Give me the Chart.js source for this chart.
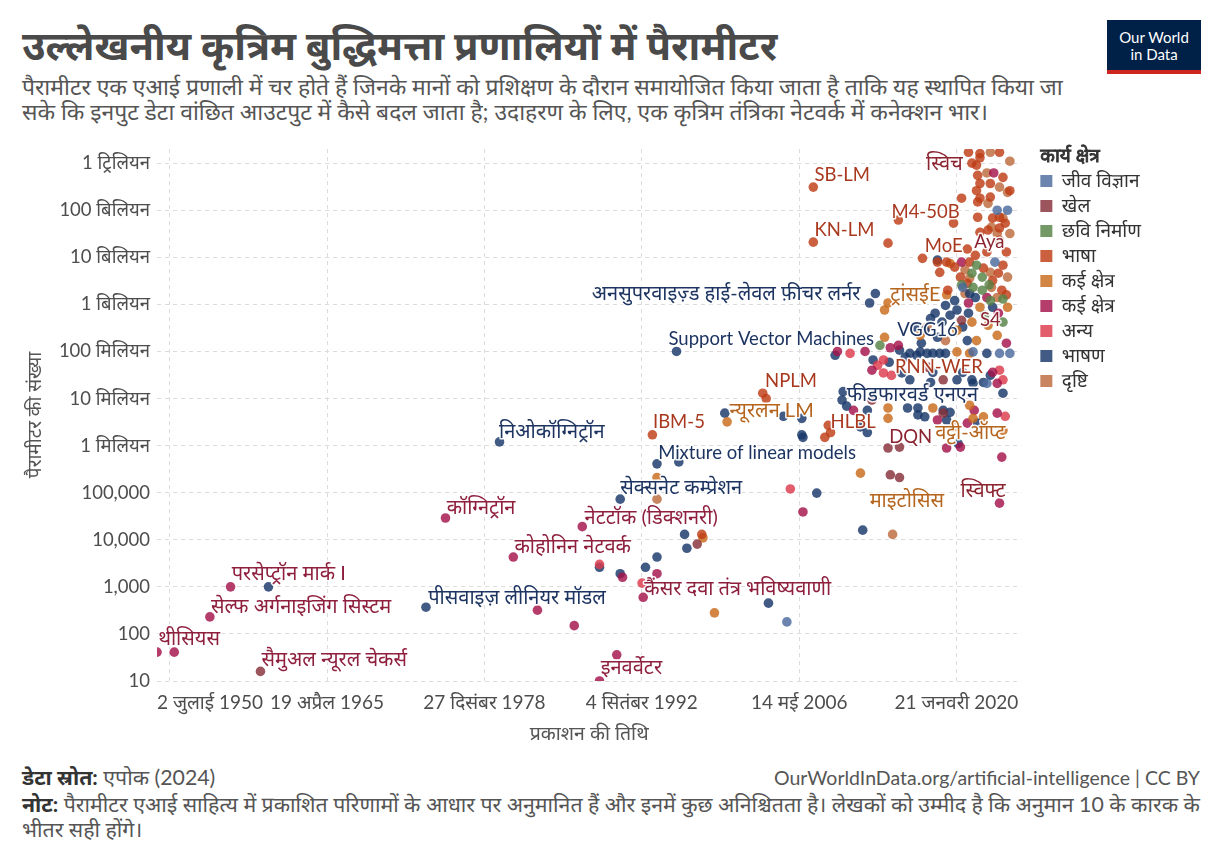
<!DOCTYPE html>
<html lang="hi">
<head>
<meta charset="utf-8">
<title>उल्लेखनीय कृत्रिम बुद्धिमत्ता प्रणालियों में पैरामीटर</title>
<script src="https://cdn.jsdelivr.net/npm/chart.js@4.4.1/dist/chart.umd.min.js"></script>
<style>
  body {
    margin: 0;
    width: 1224px;
    height: 864px;
    background: #fff;
    position: relative;
    overflow: hidden;
    font-family: Lato, "Noto Sans Devanagari", "Noto Sans", sans-serif;
  }
  h1 {
    position: absolute;
    left: 22px;
    top: 23px;
    margin: 0;
    font-size: 40px;
    line-height: 44px;
    font-weight: 700;
    color: #4a4a4a;
    white-space: nowrap;
  }
  .sub {
    position: absolute;
    left: 22px;
    top: 74px;
    margin: 0;
    font-size: 22.9px;
    line-height: 25px;
    color: #555;
    white-space: nowrap;
  }
  .logo {
    position: absolute;
    left: 1107px;
    top: 20px;
    width: 94px;
    height: 54px;
    box-sizing: border-box;
    background: #002147;
    border-bottom: 4px solid #ce261e;
    color: #fff;
    font-family: Lato, sans-serif;
    font-size: 15px;
    line-height: 17px;
    text-align: center;
    padding-top: 9px;
  }
  #wrap {
    position: absolute;
    left: 0;
    top: 140px;
    width: 1224px;
    height: 610px;
  }
  .foot {
    position: absolute;
    margin: 0;
    font-size: 21.3px;
    line-height: 25px;
    color: #555;
    white-space: nowrap;
  }
  .foot b { color: #333; }
  .src { left: 22px; top: 765px; }
  .url { right: 24px; top: 765px; font-size: 19.5px; }
  .note { left: 22px; top: 792px; }
</style>
</head>
<body>
<h1>उल्लेखनीय कृत्रिम बुद्धिमत्ता प्रणालियों में पैरामीटर</h1>
<p class="sub">पैरामीटर एक एआई प्रणाली में चर होते हैं जिनके मानों को प्रशिक्षण के दौरान समायोजित किया जाता है ताकि यह स्थापित किया जा<br>सके कि इनपुट डेटा वांछित आउटपुट में कैसे बदल जाता है; उदाहरण के लिए, एक कृत्रिम तंत्रिका नेटवर्क में कनेक्शन भार।</p>
<div class="logo">Our World<br>in Data</div>

<div id="wrap"><canvas id="chart"></canvas></div>

<p class="foot src"><b>डेटा स्रोत:</b> एपोक (2024)</p>
<p class="foot url">OurWorldInData.org/artificial-intelligence | CC BY</p>
<p class="foot note"><b>नोट:</b> पैरामीटर एआई साहित्य में प्रकाशित परिणामों के आधार पर अनुमानित हैं और इनमें कुछ अनिश्चितता है। लेखकों को उम्मीद है कि अनुमान 10 के कारक के<br>भीतर सही होंगे।</p>

<script>
// [publication year, parameters]
const biology = [
  [2005.3, 180], [2023.6, 1.0e11], [2024.5, 1.0e11], [2021.5, 9.8e7], [2022.7, 2.1e7],
  [2023.8, 9.1e7], [2024.7, 9.1e7], [2020.6, 2.3e9], [2023.4, 7.9e9]
];
const games = [
  [1959.5, 16], [1997.5, 8.1e3], [2012.7, 9.3e6], [2014.1, 8.9e5], [2015.1, 9.3e5],
  [2014.3, 2.4e5], [2015.1, 2.1e5], [2017.6, 4.6e7], [2018.9, 2.5e7], [2018.9, 4.9e6],
  [2020.5, 4.6e8]
];
const imageGen = [
  [2021.8, 6.8e9], [2022.3, 3.8e9], [2021.5, 2.3e9], [2022.3, 2.0e9], [2021.4, 4.6e9],
  [2023.0, 1.2e9], [2024.1, 1.3e9], [2022.5, 5.9e8], [2024.1, 4.2e8], [2013.4, 1.35e8],
  [2020.5, 2.6e9], [2022.9, 2.6e9]
];
const language = [
  [1993.6, 1.7e6], [1997.9, 1.3e4], [2003.2, 1.3e7], [2003.5, 1.0e7],
  [2007.6, 3.1e11], [2007.6, 2.1e10], [2008.6, 1.5e6], [2009.1, 1.9e6], [2008.9, 2.7e6],
  [2014.1, 2.0e10], [2015.0, 6.2e10], [2017.1, 9.5e9], [2019.8, 5.3e10], [2020.5, 1.8e11],
  [2021.4, 1.0e12], [2021.1, 1.7e12], [2022.1, 1.6e12], [2023.8, 1.7e12], [2021.8, 9.1e11],
  [2022.1, 1.3e12], [2021.9, 5.5e11], [2024.1, 5.0e11], [2022.1, 3.7e11], [2023.0, 3.7e11],
  [2024.7, 2.6e11], [2021.8, 2.6e11], [2023.0, 1.9e11], [2021.9, 1.5e11], [2022.1, 1.8e11],
  [2021.9, 7.1e10], [2023.2, 6.8e10], [2022.8, 3.8e10], [2023.8, 4.2e10], [2023.8, 7.1e10],
  [2024.3, 5.3e10], [2022.1, 3.4e10], [2023.8, 2.3e10], [2021.0, 1.5e10], [2021.7, 1.1e10],
  [2022.7, 1.3e10], [2024.4, 1.3e10], [2019.2, 7.9e9], [2021.2, 7.9e9], [2024.1, 6.8e9],
  [2019.9, 6.2e9], [2022.4, 5.9e9], [2023.7, 4.6e9], [2020.4, 3.8e9], [2023.2, 3.2e9],
  [2024.0, 2.0e9], [2024.4, 1.6e9], [2018.6, 4.8e9], [2021.0, 2.8e9], [2019.3, 2.0e9],
  [2018.4, 7.9e9]
];
const multiDomain = [
  [1994.0, 2.1e5], [1998.0, 1.1e4], [1999.0, 280], [2000.1, 3.2e6], [2011.7, 2.6e5],
  [2013.8, 7.6e8], [2014.1, 1.07e9], [2019.2, 1.6e9], [2013.8, 2.0e8], [2020.1, 9.8e7],
  [2021.2, 9.1e7], [2020.1, 2.8e8], [2021.8, 1.7e8], [2021.4, 4.2e8], [2022.8, 3.6e8],
  [2023.6, 2.2e8], [2021.2, 7.2e6], [2022.4, 4.1e6], [2024.1, 2.1e6], [2019.8, 2.5e6],
  [2021.5, 3.8e6], [2018.0, 6.3e6], [2014.1, 3.8e6], [2014.1, 6.3e6], [2022.1, 8.7e8],
  [2024.5, 8.7e8], [2019.5, 7.4e9], [2016.9, 2.2e8]
];
const multimodal = [
  [1950.5, 41], [1952.0, 41], [1955.1, 230], [1956.9, 1000], [1975.6, 2.9e4],
  [1981.5, 4.3e3], [1983.6, 320], [1986.8, 150], [1987.5, 1.9e4], [1990.5, 36],
  [1989.0, 10], [1991.0, 1.6e3], [1992.8, 600], [1994.0, 1.9e3], [2006.7, 3.9e4],
  [2009.7, 1.0e8], [2012.1, 1.0e8], [2014.3, 1.2e8], [2012.7, 4.0e7], [2011.1, 5.6e6],
  [2018.4, 3.5e6], [2019.2, 8.9e5], [2020.4, 9.3e5], [2021.6, 5.6e6], [2023.2, 3.6e7],
  [2023.6, 4.9e6], [2024.0, 5.7e5], [2023.8, 6.0e4], [2023.3, 6.2e11], [2022.7, 1.4e9],
  [2021.1, 1.07e9], [2023.7, 6.5e8], [2024.4, 1.5e8], [2023.6, 2.1e7], [2021.0, 3.0e6],
  [2020.5, 7.9e9], [2015.0, 1.35e8]
];
const other = [
  [1989.0, 3.0e3], [1992.7, 1.2e3], [2005.6, 1.2e5], [2010.8, 9.1e7], [2013.7, 6.6e7],
  [2013.2, 5.1e7], [2013.7, 3.5e7], [2014.4, 3.1e7], [2023.8, 4.0e7], [2024.1, 2.5e7],
  [2024.3, 4.2e6]
];
const speech = [
  [1960.2, 1000], [1973.9, 370], [1980.3, 1.2e6], [1989.0, 2.6e3], [1990.8, 1.9e3],
  [1990.8, 7.3e4], [1993.0, 2.6e3], [1994.0, 4.3e3], [1994.0, 4.1e5], [1995.9, 4.5e5],
  [1996.4, 1.3e4], [1996.6, 6.6e3], [1995.7, 1.0e8], [1999.9, 4.9e6], [2005.0, 4.2e6],
  [2006.6, 3.8e6], [2006.6, 1.7e6], [2003.7, 450], [2006.7, 1.5e6], [2007.9, 9.8e4],
  [2010.2, 1.4e7], [2010.5, 6.9e6], [2011.7, 2.5e6], [2012.3, 1.9e6], [2011.9, 1.6e4],
  [2013.0, 1.7e9], [2012.5, 1.07e9], [2009.5, 8.3e7], [2012.8, 6.6e7], [2014.2, 5.9e7],
  [2015.1, 1.07e8], [2016.0, 9.1e7], [2016.9, 9.8e7], [2017.5, 9.1e7], [2018.6, 9.1e7],
  [2022.7, 9.1e7], [2015.3, 3.5e7], [2018.0, 3.6e7], [2020.6, 3.6e7], [2016.0, 2.5e7],
  [2017.8, 2.2e7], [2020.1, 2.5e7], [2021.5, 2.1e7], [2010.1, 9.3e6], [2012.3, 5.6e6],
  [2015.8, 6.3e6], [2016.7, 6.3e6], [2018.9, 5.6e6], [2019.5, 5.1e6], [2016.7, 4.5e6],
  [2017.3, 4.1e6], [2019.2, 3.5e6], [2015.6, 7.6e7], [2016.6, 8.3e7], [2018.0, 9.1e7],
  [2019.1, 9.1e7], [2018.4, 2.0e8], [2018.8, 4.2e8], [2019.5, 5.9e8], [2020.1, 7.6e8],
  [2021.1, 6.5e8], [2021.7, 1.4e9], [2023.2, 8.7e8], [2021.2, 1.7e9], [2023.0, 3.1e7],
  [2021.4, 2.5e7], [2022.4, 2.2e7], [2024.1, 1.3e7], [2021.9, 3.0e6], [2020.2, 1.1e6],
  [2018.4, 8.7e9], [2017.3, 2.8e8], [2017.8, 5.0e8], [2019.1, 9.5e8], [2016.4, 3.3e8],
  [2017.0, 1.5e8], [2019.9, 1.2e9], [2020.6, 3.3e8], [2018.2, 6.5e8], [2021.0, 1.7e8]
];
const vision = [
  [1994.0, 7.3e4], [2014.5, 1.3e4], [2023.0, 1.7e12], [2024.7, 1.1e12], [2022.7, 6.2e11],
  [2023.8, 3.1e11], [2024.5, 2.4e11], [2022.8, 1.4e11], [2024.1, 6.8e10], [2024.7, 3.2e10],
  [2023.1, 4.4e10], [2023.6, 3.2e10], [2020.8, 5.4e9], [2023.0, 4.8e9], [2024.5, 3.8e9],
  [2021.2, 3.6e9], [2023.1, 2.3e9], [2023.6, 1.4e9], [2020.8, 1.7e9], [2017.5, 3.3e8],
  [2019.1, 1.7e8]
];

const seriesNames = ['जीव विज्ञान', 'खेल', 'छवि निर्माण', 'भाषा', 'कई क्षेत्र', 'कई क्षेत्र', 'अन्य', 'भाषण', 'दृष्टि'];
const seriesData = [biology, games, imageGen, language, multiDomain, multimodal, other, speech, vision];
const seriesColors = ['#4C6A9C', '#883039', '#578145', '#BE3D16', '#C96A1B', '#A3124B', '#DD3B4C', '#183769', '#BD6A3C'];
const legendTitle = 'कार्य क्षेत्र';

const yTickValues = [10, 100, 1e3, 1e4, 1e5, 1e6, 1e7, 1e8, 1e9, 1e10, 1e11, 1e12];
const yTickLabels = ['10', '100', '1,000', '10,000', '100,000', '1 मिलियन', '10 मिलियन', '100 मिलियन',
  '1 बिलियन', '10 बिलियन', '100 बिलियन', '1 ट्रिलियन'];
const xTickValues = [1950.50, 1951.61, 1965.30, 1978.99, 1992.68, 2006.37, 2020.05, 2025.7];
const xTickLabels = ['2 जुलाई 1950', '', '19 अप्रैल 1965', '27 दिसंबर 1978', '4 सितंबर 1992', '14 मई 2006', '21 जनवरी 2020', ''];

// [text, colour key, year, parameters, align]
const systemLabels = [
  ['स्विच', 'red', 2017.4, 1.0e12],
  ['SB-LM', 'lang', 2007.7, 5.5e11],
  ['M4-50B', 'lang', 2014.4, 9.1e10],
  ['KN-LM', 'lang', 2007.7, 3.8e10],
  ['MoE', 'lang', 2017.3, 1.7e10],
  ['Aya', 'red', 2021.6, 2.1e10],
  ['अनसुपरवाइज़्ड हाई-लेवल फ़ीचर लर्नर', 'navy', 2011.7, 1.7e9, 'right'],
  ['ट्रांसईE', 'orange', 2014.3, 1.6e9],
  ['S4', 'red', 2022.1, 4.6e8],
  ['Support Vector Machines', 'navy', 1995.0, 1.8e8],
  ['VGG16', 'navy', 2014.9, 2.8e8],
  ['RNN-WER', 'lang', 2014.7, 4.6e7],
  ['NPLM', 'lang', 2003.4, 2.4e7],
  ['फीडफारवर्ड एनएन', 'navy', 2010.5, 1.2e7],
  ['न्यूरलन LM', 'orange', 2000.3, 5.6e6],
  ['IBM-5', 'lang', 1993.65, 3.2e6],
  ['HLBL', 'lang', 2009.1, 3.2e6],
  ['DQN', 'red', 2014.2, 1.5e6],
  ['वट्टी-ऑप्ट', 'orange', 2018.2, 1.9e6],
  ['निओकॉग्निट्रॉन', 'navy', 1980.25, 2.0e6],
  ['Mixture of linear models', 'navy', 1994.1, 6.9e5],
  ['सेक्सनेट कम्प्रेशन', 'navy', 1990.8, 1.3e5],
  ['माइटोसिस', 'orange', 2012.5, 6.9e4],
  ['स्विफ्ट', 'red', 2020.4, 1.1e5],
  ['कॉग्निट्रॉन', 'crimson', 1975.7, 4.9e4],
  ['नेटटॉक (डिक्शनरी)', 'crimson', 1987.7, 3.0e4],
  ['कोहोनिन नेटवर्क', 'crimson', 1981.6, 7.1e3],
  ['कैंसर दवा तंत्र भविष्यवाणी', 'crimson', 1992.9, 930],
  ['परसेप्ट्रॉन मार्क I', 'crimson', 1957.0, 1.9e3],
  ['सेल्फ अर्गनाइजिंग सिस्टम', 'crimson', 1955.2, 390],
  ['पीसवाइज़ लीनियर मॉडल', 'navy', 1974.1, 600],
  ['थीसियस', 'crimson', 1950.6, 81],
  ['सैमुअल न्यूरल चेकर्स', 'crimson', 1959.6, 28],
  ['इनवर्वेटर', 'crimson', 1989.1, 19]
];
const labelColors = {
  lang: '#A8391E',
  red: '#8B2430',
  orange: '#B5651E',
  navy: '#1D3461',
  crimson: '#8E1F3D'
};

const FONT = 'Lato, "Noto Sans Devanagari", "Noto Sans", sans-serif';
Chart.defaults.font.family = FONT;

function fade(hex, a) {
  const n = parseInt(hex.slice(1), 16);
  return 'rgba(' + (n >> 16) + ',' + ((n >> 8) & 255) + ',' + (n & 255) + ',' + a + ')';
}

// names next to the notable systems, plus the legend heading
// (heading drawn with a stroked regular face: the bold face drops the reph)
const labelPlugin = {
  id: 'systemLabels',
  afterDatasetsDraw(chart) {
    const ctx = chart.ctx;
    const x = chart.scales.x, y = chart.scales.y;
    ctx.save();
    ctx.textBaseline = 'middle';
    ctx.lineJoin = 'round';
    systemLabels.forEach(function (l) {
      const px = x.getPixelForValue(l[2]);
      const py = y.getPixelForValue(l[3]);
      const deva = /[\u0900-\u097F]/.test(l[0]);
      ctx.font = (deva ? '20px ' : '18.5px ') + FONT;
      ctx.textAlign = l[4] || 'left';
      ctx.strokeStyle = 'rgba(255,255,255,0.92)';
      ctx.lineWidth = 3;
      ctx.strokeText(l[0], px, py);
      ctx.fillStyle = labelColors[l[1]];
      ctx.fillText(l[0], px, py);
    });
    ctx.restore();
  },
  afterDraw(chart) {
    const lg = chart.legend;
    const ctx = chart.ctx;
    ctx.save();
    ctx.font = '19px ' + FONT;
    ctx.textBaseline = 'middle';
    ctx.textAlign = 'left';
    ctx.fillStyle = '#333';
    ctx.strokeStyle = '#333';
    ctx.lineWidth = 0.9;
    ctx.strokeText(legendTitle, lg.left + lg.options.labels.padding, lg.top + 7);
    ctx.fillText(legendTitle, lg.left + lg.options.labels.padding, lg.top + 7);
    ctx.restore();
  }
};

new Chart(document.getElementById('chart'), {
  type: 'scatter',
  data: {
    datasets: seriesData.map(function (pts, i) {
      return {
        label: seriesNames[i],
        data: pts.map(function (p) { return { x: p[0], y: p[1] }; }),
        backgroundColor: fade(seriesColors[i], 0.82),
        borderColor: fade(seriesColors[i], 0.82),
        borderWidth: 0,
        pointRadius: 4.8,
        pointHoverRadius: 6
      };
    })
  },
  options: {
    animation: false,
    responsive: true,
    maintainAspectRatio: false,
    layout: { padding: { left: 21, top: 9, right: 73, bottom: 0 } },
    plugins: {
      legend: {
        position: 'right',
        align: 'start',
        title: {
          display: true,
          text: legendTitle,
          position: 'start',
          color: 'rgba(0,0,0,0)',
          font: { size: 19 },
          padding: { top: 0, bottom: -6.3 }
        },
        labels: {
          boxWidth: 12,
          boxHeight: 12,
          padding: 6,
          color: '#333',
          font: { size: 19 }
        }
      },
      tooltip: {
        callbacks: {
          label: function (c) {
            return c.dataset.label + ': ' + c.parsed.y.toLocaleString('en-US');
          }
        }
      }
    },
    scales: {
      x: {
        type: 'linear',
        min: 1950.5,
        max: 2025.7,
        afterBuildTicks: function (s) {
          s.ticks = xTickValues.map(function (v) { return { value: v }; });
        },
        afterFit: function (s) {
          s.height = 69;
          s.paddingLeft = 0;
          s.paddingRight = 0;
        },
        ticks: {
          callback: function (v) { return xTickLabels[xTickValues.indexOf(v)]; },
          align: 'inner',
          autoSkip: false,
          maxRotation: 0,
          padding: 10,
          color: '#4d4d4d',
          font: { size: 19 }
        },
        grid: {
          color: function (c) {
            return (c.index === 0 || c.index === xTickValues.length - 1) ? 'rgba(0,0,0,0)' : '#dcdcdc';
          },
          drawTicks: false
        },
        border: { display: false, dash: [4, 4] },
        title: {
          display: true,
          text: 'प्रकाशन की तिथि',
          color: '#555',
          font: { size: 19.5 },
          padding: { top: 6, bottom: 5 }
        }
      },
      y: {
        type: 'logarithmic',
        min: 10,
        max: 2e12,
        afterBuildTicks: function (s) {
          s.ticks = yTickValues.map(function (v) { return { value: v }; });
        },
        afterFit: function (s) {
          s.width = 136;
          s.paddingTop = 0;
          s.paddingBottom = 0;
        },
        ticks: {
          callback: function (v) { return yTickLabels[yTickValues.indexOf(v)]; },
          autoSkip: false,
          padding: 7,
          color: '#4d4d4d',
          font: { size: 18.5 }
        },
        grid: { color: '#dcdcdc', drawTicks: false },
        border: { display: false, dash: [4, 4] },
        title: {
          display: true,
          text: 'पैरामीटर की संख्या',
          color: '#555',
          font: { size: 19 },
          padding: { top: 2, bottom: 0 }
        }
      },
      gap: {
        position: 'right',
        display: true,
        grid: { display: false },
        ticks: { display: false },
        border: { display: false },
        afterFit: function (s) { s.width = 13; }
      }
    }
  },
  plugins: [labelPlugin]
});
</script>
</body>
</html>
